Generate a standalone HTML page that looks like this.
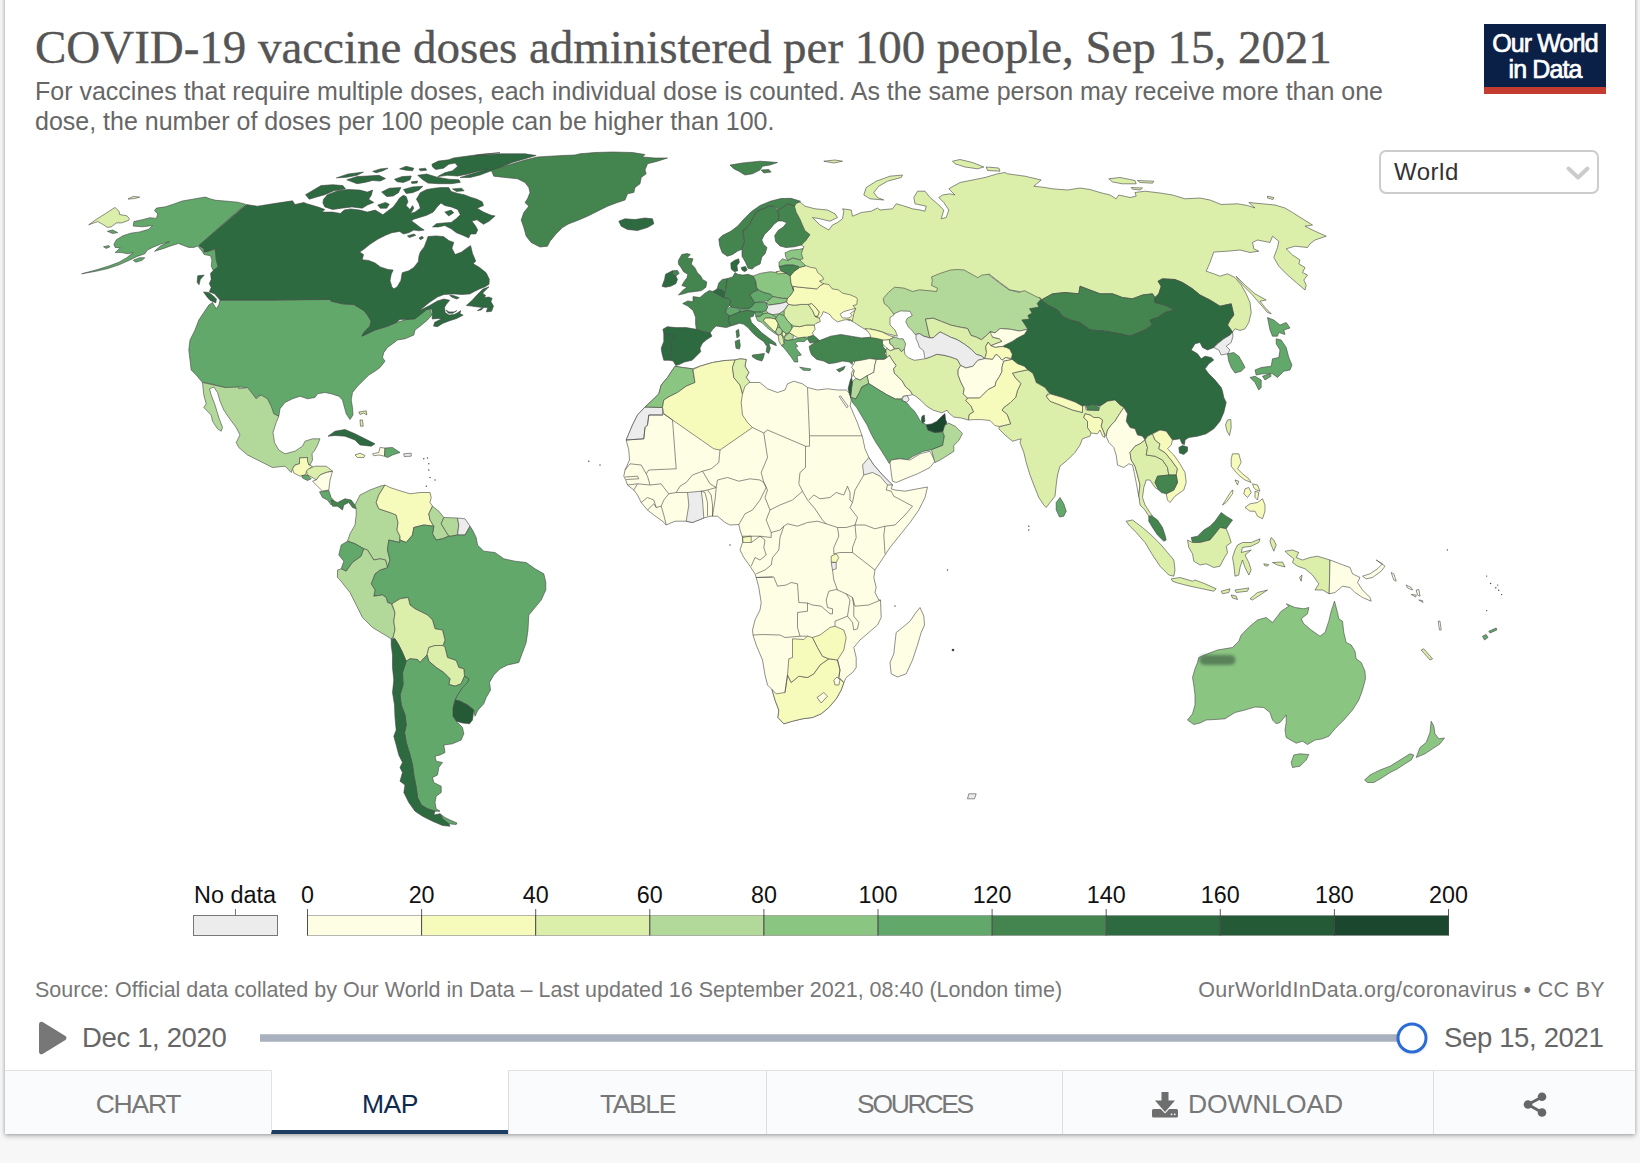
<!DOCTYPE html>
<html lang="en">
<head>
<meta charset="utf-8">
<title>COVID-19 vaccine doses administered per 100 people</title>
<style>
*{box-sizing:border-box;margin:0;padding:0}
html,body{width:1640px;height:1163px;overflow:hidden;background:#f7f7f7;font-family:"Liberation Sans",sans-serif}
#card{position:absolute;left:5px;top:-10px;width:1630px;height:1143.5px;background:#fff;box-shadow:0 2px 5px rgba(0,0,0,.28),0 0 3px rgba(0,0,0,.16)}
.abs{position:absolute;white-space:nowrap}
#title{left:35px;top:22px;font-family:"Liberation Serif",serif;font-size:47px;line-height:50px;color:#555;letter-spacing:-.03px;-webkit-text-stroke:.35px #555}
#sub{left:35px;top:76px;font-size:25px;line-height:30px;color:#666}
#logo{left:1484px;top:24px;width:122px;height:70px;background:#0a2046;border-bottom:7.5px solid #c43b2f;color:#fff;text-align:center;font-size:25px;line-height:26px;padding-top:6px;letter-spacing:-.9px;font-weight:400;-webkit-text-stroke:.7px #fff}
#sel{left:1379px;top:150px;width:220px;height:43.5px;border:2px solid #ccc;border-radius:7px;background:#fff;font-size:24px;line-height:39.5px;padding-left:13px;color:#333;letter-spacing:.5px}
#map{position:absolute;left:0;top:0;width:1640px;height:1163px}
.lg{font-size:22px;color:#111;top:882px;line-height:24px}
#src{left:35px;top:978px;font-size:21.5px;line-height:24px;color:#777}
#url{right:35px;top:978px;font-size:21.5px;line-height:24px;color:#777;letter-spacing:.33px}
.tl{font-size:27.5px;line-height:32px;color:#666;top:1022px;letter-spacing:-.35px}
#tabs{left:5px;top:1070px;width:1630px;height:63.5px;background:#fafbfc;border-top:1px solid #e2e2e2}
.tab{position:absolute;top:-1px;height:63.5px;box-sizing:border-box;overflow:hidden;border-left:1px solid #dcdcdc;border-top:1px solid #e2e2e2;font-size:26.5px;line-height:66px;text-align:center;color:#777}
.tab.on{background:#fff;color:#0f2a4f;border-bottom:4px solid #1d3d63;border-top-color:#fff;border-left:1px solid #e2e2e2}
</style>
</head>
<body>
<div id="card"></div>
<div id="title" class="abs">COVID-19 vaccine doses administered per 100 people, Sep 15, 2021</div>
<div id="sub" class="abs">For vaccines that require multiple doses, each individual dose is counted. As the same person may receive more than one<br>dose, the number of doses per 100 people can be higher than 100.</div>
<div id="logo" class="abs">Our World<br>in Data</div>
<svg id="map" viewBox="0 0 1640 1163">
<defs><filter id="bl" x="-50%" y="-50%" width="200%" height="200%"><feGaussianBlur stdDeviation="2"/></filter><filter id="sm" x="-50%" y="-100%" width="200%" height="300%"><feGaussianBlur stdDeviation="1.6"/></filter></defs>
<g id="countries" stroke="#444" stroke-width="0.6" stroke-linejoin="round">
<path fill="#61a86a" d="M245.4,204.2L237.7,202.2L224.8,201L215.8,200.3L210.6,199L205.4,197.1L193.8,199L182.2,201L173.2,204.2L165.5,206.8L156.4,208.1L154.5,210.6L157.7,213.9L156.4,218.4L150,217.7L142.2,219.7L133.9,221.6L133.2,226.1L142.2,226.8L152.6,225.5L148.7,229.3L139.7,231.9L130.6,233.2L122.9,235.8L116.4,239.7L113.9,244.2L115.1,247.4L120.3,248L115.1,252.6L121.6,252.6L128,253.8L133.2,252.6L126.8,257.7L119,262.2L108.7,266.1L95.8,270L81.6,273.8L95.8,271.3L107.4,268.7L119,264.8L129.3,260.3L137.1,256.4L144.8,253.8L147.4,250L152.6,247.4L160.3,244.2L169.3,241.6L160.3,246.1L154.5,251.3L162.9,248.7L171.9,245.5L178.4,243.5L183.5,245.5L188.7,247.4L193.8,247.4L197.7,246.1L201.6,250.6L204.2,254.5L210.6,255.8L211.9,260.3L211.2,266.1L213.2,270.6L218.3,266.7L216.4,260.3L215.8,253.8L215.1,248.7L208,251.3L204.2,251.9L204.2,248.7L199,245.5Z"/>
<path fill="#61a86a" d="M133.2,260.3L139.7,257.7L144.8,257.7L142.2,260.3L135.8,262.2Z"/>
<path fill="#61a86a" d="M103.5,246.8L108.7,245.5L110,246.8L106.1,248.4Z"/>
<path fill="#61a86a" d="M107.4,231.3L112.6,230L117.7,232.6L112.6,233.5Z"/>
<path fill="#61a86a" d="M220,300L270,300L330,299.2L331.2,301.2L342.5,303.8L353.8,304.5L363.8,310L367.5,315L371.2,321.2L370,326.2L363.8,332.5L362,335.8L375,330L387.5,326.2L396.2,322.5L408.8,318.8L420,312.5L422.5,310L430,308.8L431.8,315L427.5,320L420,326.2L415,330L413.8,335L405,338.8L397.5,340L392.5,343.8L387.5,347.5L383.8,352.5L382.5,357.5L385,361.2L380,367.5L375,371.2L368.8,375L363.8,380L357.5,386.2L352.5,392.5L351.2,400L352.5,407.5L353,415L350,419.5L346.2,413.8L343.8,405L342.5,400L338.8,396.2L331.2,393.8L325,392.5L317.5,393.8L315,397.5L307.5,398.8L300,396.2L292.5,398.8L285,402.5L280,408.8L278.8,416.2L272.5,413.8L270,406.2L266.2,398.8L260,395L255,398.8L250,392.5L246.2,387.5L237.5,387L237.5,388.8L225,387.5L210,383.8L202.5,382.5L196.2,375L191.2,370L190,360L188.8,350L190,340L195,330L198.8,320L203.8,312.5L208.8,305L212.5,302.5L216.2,308.8L218.8,305Z"/>
<path fill="#2d6a40" d="M246.2,204.5L257.5,206.2L272.5,203.8L292.5,200.8L295,204.5L303.8,202.5L306.8,203.7L313.2,205.6L319.7,207.6L324.8,209.5L322.2,212.1L332.6,212.1L340.3,213.4L344.2,210.1L350.6,208.9L359.7,210.1L367.4,212.1L375.1,210.1L382.9,214.7L388,210.8L393.2,206.9L397.1,201.8L399.6,197.9L403.5,195.3L406.1,196.6L408,201.8L406.1,205.6L410,209.5L412.5,205.6L413.8,208.2L410.6,213.4L415.1,212.1L420.3,208.2L419,203.7L416.4,199.2L420.3,192.7L426.7,189.5L434.5,188.2L440.9,187.6L448.7,187.6L451.2,191.4L457.7,193.4L464.1,194.7L470.6,197.2L477,199.2L482.2,201.8L483.5,205.6L477,208.2L483.5,212.1L491.2,215.3L495.1,215.9L489.3,221.1L483.5,224.3L477,219.8L471.9,221.1L475.7,226.3L477.7,230.1L475.7,234L470.6,234L468.7,237.9L462.8,235.3L456.4,232.7L451.2,228.8L444.8,225.6L438.3,226.9L432.5,226.9L436.4,223.7L443.5,223L451.2,222.4L456.4,218.5L460.3,214.7L457.7,209.5L451.2,206.9L444.8,205.6L440.9,203L437.1,206.9L433.2,212.1L426.7,215.3L420.3,217.2L413.8,219.2L411.3,221.1L413.8,222.4L420.3,227.6L424.2,230.1L419,230.8L413.8,230.1L408.7,232.7L403.5,234L399.6,231.4L391.9,232.7L385.5,235.3L377.7,239.2L370,244.3L363.5,249.5L359.7,252.1L363.5,254.6L362.2,259.8L368.7,260.4L375.1,263L380.3,266.9L388,269.5L393.2,270.1L391.3,274L390,280.4L391.9,286.9L393.8,288.8L397.1,286.9L400.9,280.4L402.2,272.7L408.7,270.8L413.8,267.5L418.3,261.7L419,255.9L420.3,252.1L424.2,246.9L426.7,240.5L428,236.6L435.8,235.9L443.5,236.6L448.7,240.5L453.8,242.4L451.9,248.2L455.1,254.6L461.6,252.1L466.7,248.2L470.6,245.6L472.5,253.4L475.7,261.1L473.2,263.7L479.6,267.5L486.1,272.7L489.3,279.2L489,284.2L485.1,286.8L480,288.7L474.8,291.3L469.7,293.9L461.9,294.5L454.2,293.9L443.9,294.5L437.4,297.1L429.7,302.2L423.2,307.4L419.3,310.6L423.2,308.7L429.7,305.5L437.4,300.9L443.9,299L449.7,300.3L446.4,304.2L444.5,307.4L445.1,312.6L449,315.1L454.2,314.5L458,312.6L460.6,310.6L460,313.8L463.2,315.1L456.8,318.4L449,320.9L442.6,323.5L437.4,326.7L433.5,326.1L434.8,322.2L441.3,319L438.7,318.4L432.2,319L432.2,312.6L431.6,308.9L427.1,309.3L420.6,314.5L414.8,319L406.4,319.4L400,319.4L396.2,322.5L387.5,326.2L375,330L362,336.2L363.8,332.5L370,326.2L371.2,321.2L367.5,315L363.8,310.5L353.8,304.5L342.5,303.8L331.2,301.2L330,299.5L270,300L220,300L214.5,293.8L209.3,291.9L211.2,287.4L209.3,283.5L211.2,279.6L210.6,273.2L213.2,270.6L218.3,266.7L216.4,260.3L215.8,253.8L215.1,248.7L208,251.3L204.2,251.9L204.2,248.7L199,245.5Z"/>
<path fill="#2d6a40" d="M466.4,305.5L472.2,300.3L477.4,294.5L482.6,289.3L489,286.8L485.1,290.6L482.6,293.2L485.8,295.8L483.8,297.7L489,297.1L492.2,298.4L490.9,301.6L493.5,306.1L491.6,311.3L486.4,311.9L487.7,307.4L483.8,307.4L481.3,310L477.4,310.6L482.6,307.4L476.1,306.8L471.6,306.1Z"/>
<path fill="#2d6a40" d="M449.7,295.1L454.2,295.8L459.3,297.7L456.8,299L451.6,297.1Z"/>
<path fill="#2d6a40" d="M445.8,310L449,311.9L454.2,311.9L456.8,310.6L452.9,313.2L448.4,313.2Z"/>
<path fill="#2d6a40" d="M203.5,291.9L208.7,292.5L213.2,295.8L216.4,299L215.8,302.9L210,300.3L206.7,296.4Z"/>
<path fill="#2d6a40" d="M197.7,275.8L204.2,275.1L200.3,279.6L199,284.8L197.1,282.2Z"/>
<path fill="#2d6a40" d="M305.5,194.7L321,185.6L332.6,184.7L342.9,185.6L345.5,188.9L333.9,190.8L324.8,194.7L315.8,197.2L309.3,199.2Z"/>
<path fill="#2d6a40" d="M323.5,199.2L327.4,194.7L337.7,190.8L348,189.5L359.7,190.1L367.4,192.1L372.6,190.1L371.3,195.3L368.7,199.2L373.8,202.4L367.4,205L362.2,208.2L351.9,206.9L341.6,208.2L332.6,209.5L324.8,206.9L322.9,203Z"/>
<path fill="#2d6a40" d="M381.6,192.1L389.3,188.2L400.9,187.6L398.4,192.7L393.2,196L386.7,196.6Z"/>
<path fill="#2d6a40" d="M377.7,205L385.5,202.4L389.3,204.3L386.7,208.2L380.3,208.2Z"/>
<path fill="#2d6a40" d="M346.8,179.8L357.1,176.6L367.4,176L379,175.3L385.5,178.5L380.3,181.1L372.6,180.5L364.8,182.4L357.1,183.7L351.9,181.8Z"/>
<path fill="#2d6a40" d="M336.4,177.9L348,174L363.5,172.1L357.1,175.3L346.8,177.2Z"/>
<path fill="#2d6a40" d="M372.6,171.4L380.3,168.9L388,168.2L382.9,170.8L376.4,172.7Z"/>
<path fill="#2d6a40" d="M394.5,179.2L402.2,176.6L411.3,176L410,179.8L403.5,182.4L397.1,181.8Z"/>
<path fill="#2d6a40" d="M399.6,168.9L406.1,166.3L413.8,168.2L412.5,170.8L406.1,170.2Z"/>
<path fill="#2d6a40" d="M419,168.9L425.4,168.2L426.7,170.2L420.3,170.8Z"/>
<path fill="#2d6a40" d="M411.3,181.8L417.7,181.1L417.1,183.1L411.9,183.4Z"/>
<path fill="#2d6a40" d="M417.7,175.3L426.7,174L437.1,177.2L448.7,179.2L459,179.8L460.3,182.4L451.2,183.7L438.3,183.7L428,183.1L422.9,179.8Z"/>
<path fill="#2d6a40" d="M403.5,189.5L412.5,186.9L422.9,186.3L419,190.1L412.5,192.7L406.1,193.4Z"/>
<path fill="#2d6a40" d="M452.5,188.9L461.6,188.2L464.1,190.8L456.4,191.4Z"/>
<path fill="#2d6a40" d="M444.8,212.1L451.2,210.1L453.8,212.7L448.7,215.9Z"/>
<path fill="#2d6a40" d="M407.4,235.9L413.8,234L415.8,235.3L409.3,237.6Z"/>
<path fill="#2d6a40" d="M419,237.9L422.2,236.3L423.5,237.9L420.5,239.8Z"/>
<path fill="#2d6a40" d="M431.9,164.3L438.3,161.1L448.7,159.8L453.8,157.9L468,156L483.5,154L500,152.7L475,155.5L500,153.8L525,153.8L536.2,155.5L525,158.8L512.5,162.5L500,167.5L490,171.2L480,175L470,177.5L460,177.5L487.4,168.9L477,171.4L468,174L457.7,176L447.4,175.3L437.7,176.6L444.8,172.7L452.5,170.8L457.7,166.3L455.1,163.1L448.7,164.3L443.5,168.2L435.8,169.5L432.5,166.9Z"/>
<path fill="#44844f" d="M491.2,170L500,167.5L512.5,163.8L525,160L537.5,157L550,156.2L562.5,155.5L575,155L580,153.8L595,152.5L612.5,152L632.5,152.5L645,154.5L642.5,157L655,158L667.5,158L657.5,161.2L647.5,163.8L645,170L646.2,173.8L641.2,177.5L640,183.8L635,187.5L633.8,192.5L627.5,193.8L625,200L617.5,202.5L607.5,206.2L597.5,211.2L587.5,216.2L577.5,220.5L568.8,223.8L562.5,227.5L556.2,233.8L550,241.2L547.5,246.2L540,247L531.2,242.5L526.2,236.2L523.8,227.5L521.2,220L523.8,212.5L528.8,206.2L525,202.5L527.5,198.8L530,192.5L528.8,187.5L525,182.5L517.5,178.8L505,177.5L493.8,176.2Z"/>
<path fill="#2d6a40" d="M618.8,221.2L625,218.8L635,219.5L645,218L652.5,218.8L653.8,223.8L647.5,227.5L637.5,230.5L627.5,229.5L621.2,226.2Z"/>
<path fill="#b3d99a" d="M202.5,382.5L225,387.5L238.8,387L238.8,388.8L247.5,387.5L252.5,393.8L256.2,398.8L261.2,395L267.5,398.8L271.2,406.2L273.8,413.8L278.8,416.2L276.2,422.5L273,432.5L274.5,442.5L278.8,450L285,453.8L295,451.2L302.5,446.2L305,441.2L312.5,438.8L320,438.8L317.5,445L315,450L312,453.8L312.5,460L310,465L308,463.8L307.5,461.2L307.5,457.5L299.5,458L299.5,463.8L295,465L292.5,468.8L291.2,472.5L285,466.2L272.5,467.5L260,461.2L247.5,455L238.8,447.5L236.2,442.5L240,435L236.2,427.5L228.8,417.5L223.8,410L220,401.2L217.5,392.5L213.8,387L209.5,388.8L211.2,395L215,405L218.8,417.5L222.5,427.5L221.2,431.2L217.5,428.8L212.5,421.2L211.2,415L203.8,407.5L206.2,403.8L203.8,395Z"/>
<path fill="#f6fabb" d="M299.5,458L307.5,457.5L307.5,461.2L308.8,465L312.5,466.2L307.5,470L305,475L300,476.2L293.8,473L292.5,468.8L295,465L299.5,463.8Z"/>
<path fill="#dbeeaa" d="M308.8,468.8L315,466.2L326.2,466.2L332.5,471.2L326.2,472.5L320,475L316.2,480L312.5,477.5L307.5,475L306.2,471.2Z"/>
<path fill="#61a86a" d="M301.8,475.5L307.5,475L311.2,478.8L307.5,480.5L302.5,478Z"/>
<path fill="#fefee5" d="M316.2,480L320,475L326.2,472.5L332.5,471.2L330,480L328.8,490L322.5,491.2L317.5,486.2L312.5,481.2Z"/>
<path fill="#61a86a" d="M319.5,491.8L328.8,490.5L331.2,497.5L334.5,501.2L331.2,505L327.5,500L322.5,497.5Z"/>
<path fill="#44844f" d="M331.2,500L337.5,502.5L345,498.8L351.2,500L355,505L356.2,508.8L352.5,507.5L348.8,502.5L343.8,505L342.5,510L337.5,506.2L332.5,506.2Z"/>
<path fill="#2d6a40" d="M328,436.2L335,431.2L345,429.5L355,433.8L365,438.8L375,443.8L371.2,446.2L360,445L355,440L345,436.2L335,435.5Z"/>
<path fill="#f6fabb" d="M355,455L360,453.2L365,455.5L363.8,457.5L357.5,457.5Z"/>
<path fill="#fefee5" d="M372.5,453.8L378.8,452.5L380,447.5L385,448L384.5,456.2L378.8,455L373.8,455.8Z"/>
<path fill="#61a86a" d="M385,448L392.5,447.5L400,452.5L392.5,455L387.5,457.5L384.5,456.2Z"/>
<path fill="#ececec" d="M403.8,453.8L411.2,453.2L411.2,456.2L404.2,456.5Z"/>
<path fill="#dbeeaa" d="M358.8,412L366.2,410.8L366.8,415L363.8,413L360,414.5Z"/>
<path fill="#dbeeaa" d="M360,420L362.5,420L363.2,426.2L360.5,426.2Z"/>
<path fill="#b3d99a" d="M355,505L360,495L370,490L380,486.2L385,485L378.8,495L376.2,502.5L378.8,508.8L390,512.5L396.2,515L398,522.5L397,530L400,536.2L399.5,542.5L388.8,540L387.5,550L390,560L387.5,567.5L385.5,560L380,558.8L373.8,560L367.5,550L363.8,548.8L355,543.8L347.5,541.2L350,533.8L355,525L356.2,515L356.2,508.8Z"/>
<path fill="#61a86a" d="M347.5,541.2L355,543.8L363.8,548.8L361.2,556.2L352.5,562.5L346.2,571.2L341.2,568.8L343.8,561.2L338.8,555L341.2,545Z"/>
<path fill="#f6fabb" d="M385,485L390,487.5L397.5,490L410,493.8L420,492.5L430,492.5L431.2,497.5L430,502.5L432.5,506.2L428.8,513.8L430,520L433.8,526.2L423.8,525L413.8,527.5L412.5,535L406.2,542.5L400,540L400,536.2L397,530L398,522.5L396.2,515L390,512.5L378.8,508.8L376.2,502.5L378.8,495Z"/>
<path fill="#b3d99a" d="M432.5,506.2L438.8,511.2L443.8,517.5L441.2,523.8L445,530L448.8,536.2L442.5,538.8L436.2,540L432.5,533.8L433.8,526.2L430,520L428.8,513.8Z"/>
<path fill="#b3d99a" d="M443.8,517.5L457.5,518L458.8,525L457.5,535L451.2,536.2L448.8,536.2L445,530L441.2,523.8Z"/>
<path fill="#ececec" d="M457.5,518L465,518.8L470,526.2L465,535L457.5,535L458.8,525Z"/>
<path fill="#61a86a" d="M470,526.2L472.5,530L476.2,537.5L477.5,545L483.8,551.2L495,552.5L503.8,558.8L515,561.2L526.2,562.5L535,568.8L543.8,573.8L545.8,582.5L545.8,590L541.2,600L535,607.5L528.8,615L528,630L526.2,642.5L522.5,652.5L518.8,662.5L507.5,665L500,668.8L493.8,675L489.5,682.5L490.5,690L486.2,697.5L483.8,703.8L478,710L475,716.2L473.8,710L467.5,705L460,701.2L455,700L457.5,695L462.5,687.5L467.5,682.5L468.8,678.8L464.5,676.2L463.8,668.8L458.8,667.5L456.2,660.5L447.5,657.5L445,647.5L443,645.5L445,640L442.5,630L435,628.8L432.5,620L427.5,615L422.5,612.5L415,608.8L410,605L408.2,597.5L400,598.8L392,603.8L387.5,602.5L386.2,597.5L382.5,595L373.8,596.2L375,590L371.2,583.8L375,573.8L380,570L387.5,567.5L390,560L387.5,550L388.8,540L399.5,542.5L400,540L406.2,542.5L412.5,535L413.8,527.5L423.8,525L433.8,526.2L432.5,533.8L436.2,540L442.5,538.8L448.8,536.2L451.2,536.2L457.5,535L465,535Z"/>
<path fill="#b3d99a" d="M346.2,571.2L352.5,562.5L361.2,556.2L363.8,548.8L367.5,550L373.8,560L380,558.8L385.5,560L387.5,567.5L380,570L375,573.8L371.2,583.8L375,590L373.8,596.2L382.5,595L386.2,597.5L387.5,602.5L391.2,603.8L395,612.5L393.8,621.2L395,630L393,637.5L391.2,638.8L385,635L372.5,627.5L362.5,617.5L350,592.5L340,580L337.5,577.5L337.5,570L341.2,568.8Z"/>
<path fill="#dbeeaa" d="M392,603.8L400,598.8L408.2,597.5L410,605L415,608.8L422.5,612.5L427.5,615L432.5,620L435,628.8L442.5,630L445,640L443,645.5L435,645.5L428.8,647.5L427,655L420,662.5L417.5,659.5L410,658.8L406.2,661.2L402.5,652.5L398.8,645L395,638.8L393,637.5L395,630L393.8,621.2L395,612.5Z"/>
<path fill="#dbeeaa" d="M428.8,647.5L435,645.5L443,645.5L445,647.5L447.5,657.5L456.2,660.5L458.8,667.5L463.8,668.8L464.5,676.2L461.2,683.8L455,686.2L448.8,684.5L450,678.8L443.8,672.5L436.2,667.5L428.8,661.2L427,655Z"/>
<path fill="#255a37" d="M455,700L460,701.2L467.5,705L473.8,710L472.5,720L469.5,723.8L462.5,723L456.2,721.2L453,716.2L453,707.5Z"/>
<path fill="#61a86a" d="M406.2,661.2L410,658.8L417.5,659.5L420,662.5L427,655L428.8,661.2L436.2,667.5L443.8,672.5L450,678.8L448.8,684.5L455,686.2L461.2,683.8L464.5,676.2L468.8,678.8L467.5,682.5L462.5,687.5L457.5,695L455,700L453,707.5L453,716.2L456.2,721.2L462.5,727.5L463.8,733.8L461.2,740L452.5,743.8L443.8,745L445,752.5L440,755L435,756.2L436.2,761.2L442.5,762.5L438.8,767.5L437.5,775L432.5,777.5L433.8,782.5L441.2,786.2L441.2,792.5L436.2,796.2L435,802.5L436.2,808.8L440,811.2L435,811.2L427.5,808.8L421.2,805L417.5,797.5L416.2,787.5L413.8,775L412.5,765L410,755L406.2,742.5L404.5,732.5L406.2,725L405,715L401.2,705L400,695L403,685L402.5,672.5Z"/>
<path fill="#61a86a" d="M440,813.8L445,817.5L450,820L457,823L456.2,824.5L448.8,823.8L442.5,818.8Z"/>
<path fill="#2d6a40" d="M391.2,638.8L395,638.8L398.8,645L402.5,652.5L406.2,661.2L402.5,672.5L403,685L400,695L401.2,705L405,715L406.2,725L404.5,732.5L406.2,742.5L410,755L412.5,765L413.8,775L416.2,787.5L417.5,797.5L421.2,805L427.5,808.8L435,811.2L433.8,815L440,813.8L442.5,818.8L448.8,823.8L450,826.2L442.5,825.5L432.5,821.2L422.5,816.2L415,811.2L408.8,802.5L403.8,792.5L405,785L400,781.2L402.5,772.5L400,767.5L402.5,762.5L398.8,755L396.2,745L393.8,736.2L396.2,730L395,717.5L394.5,705L392.5,692.5L393.8,680L392.5,667.5L392.5,655L391.2,645Z"/>
<path fill="#dbeeaa" d="M800,202L805,206.2L815,208.8L827.5,210L835,213.8L837.5,217.5L830,221.2L820,218.8L812.5,217.5L816.2,221.2L820,225L828.8,230L832.5,225L837.5,222.5L842.5,218.8L843.8,211.2L842.5,208.8L851.2,210L852.5,216.2L861.2,212.5L871.2,211.2L877.5,208L880,210L892.5,208.8L896.2,203.8L902.5,205.5L912.5,208.8L920,210L925,211.2L926.2,206.2L915,203.8L913.8,197.5L917.5,191.2L925,191.2L930,197.5L937.5,203.8L943.8,210L941.2,218.8L946.2,217.5L948.8,210L943.8,202.5L938.8,197.5L942.5,195L950,193.8L955,195L948.8,188.8L960,182.5L972.5,180L985,177.5L997.5,173.8L1005,172.5L1007.5,173.8L1025,176.2L1041.2,180L1033.8,186.2L1045,187.5L1052.5,188.8L1067.5,190L1080,188L1090,189.5L1100,192.5L1110,195L1116.2,198.8L1118.8,195L1130,197.5L1136.2,196.2L1135,192.5L1145,191.2L1160,193L1172.5,195L1185,198.8L1200,198L1210,200L1221.2,204.5L1237.5,203.8L1247.5,205.5L1255,208L1248.8,202.5L1262.5,203.8L1275,205L1285,208L1292.5,212.5L1302.5,218.8L1312.5,225L1305,226.2L1315,231.2L1326.2,236.2L1315,240L1310,243.8L1307.5,247.5L1295,246.2L1286.2,248.8L1292.5,255L1300,260L1298.8,263.8L1305,267.5L1302.5,272.5L1307.5,275L1303.8,280L1306.2,285L1305,290L1296.2,282.5L1287.5,275L1278.8,266.2L1273.8,257.5L1277.5,247.5L1278.8,241.2L1272.5,236.2L1270,242.5L1257.5,240L1252.5,242.5L1253.8,248.8L1258.8,251.2L1250,252.5L1240,250L1227.5,251.2L1213.8,252L1210,262.5L1206.2,271.2L1213.8,273.8L1220,276.2L1227.5,273.8L1235,277.5L1241.2,285L1246.2,293.8L1250,302.5L1251.2,312.5L1248.8,322.5L1245,328.8L1240,330.5L1235,328.8L1232.5,332L1227.5,325L1230,320L1233.8,315L1231.2,303.8L1220,306.2L1210,300L1200,295L1192.5,288.8L1182.5,282.5L1175,279.5L1162.5,278.8L1158,281.2L1161.2,286.2L1158.8,293.8L1155,297.5L1152.5,293.8L1142.5,295L1132.5,298.8L1122.5,297.5L1112.5,293.8L1100,293.8L1090,290L1080,286.2L1078.8,293.8L1065,292.5L1052.5,293.8L1041.2,300L1037.5,300L1030,295L1017.5,291.2L1010,290L1000,282.5L988.8,273.8L980,285L967.5,282.5L957.5,277.5L945,280L937.5,282.5L940,295L926.2,296.2L915,297.5L906.2,295L897.5,295L891.2,300L892.5,305L895,310L893.8,315L890,317.5L890,325L895,330L897.5,336.2L887.5,333.8L880,331.2L870,328.8L869.8,332.2L864.5,329L859.2,325.8L854.2,322.5L852.2,321.2L847.5,320L845,312.5L851.2,305L852.5,298.8L846.2,297.5L840,296.2L832.5,291.2L827.5,286.2L820,287.5L820,278.8L815,273.8L812.5,268.8L805,267.5L801.2,265.5L798.8,260L798.8,251.2L803,248.5L804,246.8L801.2,245L805,235L801.2,225L797.5,216.2L793.8,208.8L792.5,203.8Z"/>
<path fill="#dbeeaa" d="M776.2,271.8L785,271.2L785,274.2L777,274.2Z"/>
<path fill="#dbeeaa" d="M863.8,195L866.2,187.5L876.2,181.2L890,176.2L902.5,175L901.2,177.5L887.5,181.2L878.8,186.2L873.8,192.5L877.5,197.5L883.8,200L870,198.8Z"/>
<path fill="#dbeeaa" d="M823.8,161.2L835,160L842.5,161.2L833.8,163Z"/>
<path fill="#dbeeaa" d="M952.5,161.2L960,159.5L972.5,162.5L983.8,167L977.5,168.8L965,167L955,163.8Z"/>
<path fill="#dbeeaa" d="M986.2,167L998.8,168L1000,171.2L987.5,170.5Z"/>
<path fill="#dbeeaa" d="M1108.8,178.8L1120,177.5L1135,180.5L1136.2,183.8L1122.5,183.8L1112.5,182Z"/>
<path fill="#dbeeaa" d="M1137.5,180.5L1153.8,181.2L1152.5,183.2L1140,182.5Z"/>
<path fill="#dbeeaa" d="M1131.2,187.5L1142.5,188L1140,190L1132.5,189.2Z"/>
<path fill="#dbeeaa" d="M1267.5,196.2L1273.8,197.5L1273,199.5L1267.5,198Z"/>
<path fill="#dbeeaa" d="M1236.2,276.2L1245,285L1255,293.8L1266.2,300L1260,301.2L1265,307.5L1271.2,313.8L1267.5,312.5L1260,303.8L1252.5,295L1243.8,286.2L1237.5,278.8Z"/>
<path fill="#44844f" d="M730,165L742.5,163L760,161.2L777.5,162.5L770,165L762.5,166.2L760,170L752.5,173.8L745,175L738.8,171.2L733.8,168.8Z"/>
<path fill="#44844f" d="M761.2,170L768.8,169.5L771.2,172L763.8,173Z"/>
<path fill="#44844f" d="M1041.2,300L1052.5,293.8L1065,292.5L1078.8,293.8L1080,286.2L1090,290L1100,293.8L1112.5,293.8L1122.5,297.5L1132.5,298.8L1142.5,295L1152.5,293.8L1155,297.5L1155,302.5L1165,305L1175,310L1165,312.5L1157.5,317.5L1150,320L1152.5,325L1145,330L1130,336.2L1120,333.8L1105,331.2L1090,330L1080,322.5L1070,320L1062.5,316.2L1057.5,310L1047.5,305Z"/>
<path fill="#2d6a40" d="M1003.7,347.4L1004.6,343.1L1010.6,339.7L1015.7,336.2L1021.8,332.8L1025.2,329.3L1022.6,325L1019.2,319L1026.9,317.3L1025.2,314.7L1029.5,312.1L1026.9,307.8L1036.4,306.1L1034.7,302.7L1039.8,297.5L1041.2,300L1047.5,305L1057.5,310L1062.5,316.2L1070,320L1080,322.5L1090,330L1105,331.2L1120,333.8L1130,336.2L1145,330L1152.5,325L1150,320L1157.5,317.5L1165,312.5L1175,310L1165,305L1155,302.5L1155,297.5L1158.8,293.8L1161.2,286.2L1158,281.2L1162.5,278.8L1175,279.5L1182.5,282.5L1192.5,288.8L1200,295L1210,300L1220,306.2L1231.2,303.8L1233.8,315L1230,320L1227.5,325L1232.5,332L1230,335L1223.8,338.8L1217.5,343.8L1213.8,347.5L1207.5,350L1202.5,347.5L1200,342.5L1195,343.8L1191.2,350L1197.5,353.8L1201.2,358.8L1205,356.2L1211.2,357.5L1213.8,360L1208.8,363.8L1205,368.8L1208.8,373.8L1215,380L1221.2,387.5L1222.5,391.2L1223.8,397.5L1226.2,402.5L1223.8,412.5L1220,421.2L1213.8,428.8L1206.2,433.8L1197.5,436.2L1188.8,437.5L1185,440L1184.5,444.5L1182,443.8L1180,438.8L1172.5,440L1166.2,431.2L1160,430L1152.5,433.8L1147.5,436.2L1145,440L1142.5,436.2L1137.5,435L1135,428.8L1130,427.5L1126.2,421.2L1127.5,413.8L1123.8,407.5L1120,405L1115,400L1107.5,401.2L1100,406.2L1092.5,404.5L1086.2,405.5L1082.5,406.2L1075,402L1062.5,397.5L1050,393.8L1045,387.5L1036.2,382.5L1033.8,380.1L1031.2,374.1L1026.1,370.6L1022.6,368L1016.6,365.5L1010.6,361.2L1008.9,358.6L1009.7,354.3L1007.1,350Z"/>
<path fill="#2d6a40" d="M1178.8,447.5L1182.5,445.5L1187.5,447L1187.5,451.2L1183.8,454.5L1179.5,453Z"/>
<path fill="#dbeeaa" d="M1227.5,420L1230.8,419.5L1231.2,427.5L1229.5,435.5L1227,431.2L1225.5,425Z"/>
<path fill="#ececec" d="M1232.5,332L1230,335L1223.8,338.8L1217.5,343.8L1213.8,347.5L1218.8,350L1221.2,355L1227.5,353.8L1230,350L1226.2,346.2L1231.2,342.5L1233,336.2Z"/>
<path fill="#61a86a" d="M1227.5,353.8L1233.8,352.5L1238.8,356.2L1242.5,362.5L1245,367.5L1241.2,371.2L1235,373L1231.2,367.5L1228.8,361.2Z"/>
<path fill="#61a86a" d="M1267.5,317.5L1273.8,320L1280,325L1286.2,322.5L1290,328L1283.8,330L1285,334.5L1278.8,332.5L1277.5,336.2L1272.5,336.2L1270,330Z"/>
<path fill="#61a86a" d="M1276.2,338.8L1281.2,340L1286.2,347.5L1288.8,357.5L1292,365L1290,370L1283.8,371.2L1277.5,377.5L1272.5,373.8L1262.5,373.8L1256.2,375L1255,370L1261.2,367.5L1271.2,366.2L1272.5,358.8L1278.8,357.5L1280,350L1276.2,343.8Z"/>
<path fill="#61a86a" d="M1250,377.5L1255,376.2L1261.2,380L1261.2,387.5L1258.8,390L1255,382.5Z"/>
<path fill="#61a86a" d="M1262.5,376.2L1270,373.8L1271.2,376.2L1265,380Z"/>
<path fill="#dbeeaa" d="M1036.2,382.5L1045,387.5L1048.8,392.5L1046.2,396.2L1050,401.2L1060,405L1072.5,410L1082.5,412.5L1082.5,406.2L1085,405L1086.2,410L1098.8,410L1100,406.2L1107.5,401.2L1115,400L1120,405L1123.8,407.5L1118.8,415L1115,421.2L1111.2,425L1107.5,430L1106.2,436.2L1103.8,432.5L1101.2,426.2L1102.5,420L1098.8,417.5L1093.8,417.5L1090,415L1085,413.8L1083.8,417.5L1087.5,421.2L1087.5,427.5L1091.2,432.5L1090,436.2L1082.5,438.8L1080,445L1075,452.5L1067.5,460L1060,466.2L1057.5,475L1056.2,485L1055,496.2L1050,502.5L1046.2,507.5L1043.8,505L1038.8,497.5L1033.8,485L1030,475L1026.2,462.5L1023.8,452.5L1020,442.5L1021.2,438.8L1012.5,441.2L1005,435L998.8,428.8L999.4,426.5L1010.6,423.9L1009.7,421.4L1007.1,414.5L1002,410.2L1003.7,407.6L1010.6,402.4L1015.7,397.3L1017.5,390.4L1020.9,383.5L1015.7,378.4L1012.3,373.2L1019.2,371.5L1027.8,369.8L1032.9,373.2L1035.5,380.1Z"/>
<path fill="#f6fabb" d="M1046.2,396.2L1050,393.8L1062.5,397.5L1075,402L1082.5,406.2L1082.5,412.5L1072.5,410L1060,405L1050,401.2Z"/>
<path fill="#44844f" d="M1086.2,405.5L1092.5,404.5L1098.8,407L1098.8,410.5L1087.5,410Z"/>
<path fill="#f6fabb" d="M1085,413.8L1090,415L1093.8,417.5L1098.8,417.5L1102.5,420L1101.2,426.2L1103.8,432.5L1105,437.5L1102.5,436.2L1100,430L1097.5,433.8L1091.2,433L1087.5,427.5L1087.5,421.2L1083.8,417.5Z"/>
<path fill="#61a86a" d="M1056.2,502.5L1060,497.5L1063.8,503.8L1066.2,511.2L1063.8,516.2L1059.5,517L1056.2,510Z"/>
<path fill="#fefee5" d="M1106.2,436.2L1107.5,430L1111.2,425L1115,421.2L1118.8,415L1123.8,407.5L1127.5,413.8L1126.2,421.2L1130,427.5L1135,428.8L1137.5,435L1142.5,436.2L1145,440L1140,443.8L1135,446.2L1130,452.5L1131.2,460L1135,466.2L1137.5,475L1140,485L1138.8,495L1140,500L1138,492.5L1136.2,482.5L1134.5,473.8L1132.5,465L1128.8,463.8L1123.8,467.5L1117.5,465L1116.2,455L1113.8,447.5L1108.8,442.5Z"/>
<path fill="#dbeeaa" d="M1130,452.5L1135,446.2L1140,443.8L1145,440L1147.5,447.5L1146.2,455L1155,456.2L1162.5,460L1167.5,467.5L1168.8,475L1157.5,476.2L1155,482.5L1158.8,490L1155,487.5L1150,480L1146.2,480L1143.8,487.5L1142.5,497.5L1145,505L1150,512.5L1152.5,516.2L1148.8,516.2L1145,510L1140,505L1138.8,495L1140,485L1137.5,475L1135,466.2L1131.2,460Z"/>
<path fill="#dbeeaa" d="M1145,440L1147.5,436.2L1152.5,433.8L1155,440L1160,443.8L1158.8,448.8L1165,452.5L1171.2,460L1177.5,468.8L1176.2,475L1168.8,475L1167.5,467.5L1162.5,460L1155,456.2L1146.2,455L1147.5,447.5Z"/>
<path fill="#f6fabb" d="M1152.5,433.8L1160,430L1166.2,431.2L1172.5,440L1171.2,445L1167.5,448.8L1173.8,455L1180,463.8L1185,472.5L1186.2,482.5L1183.8,490L1175,496.2L1170,502.5L1167.5,500L1166.2,493.8L1173.8,490L1177.5,482.5L1176.2,475L1177.5,468.8L1171.2,460L1165,452.5L1158.8,448.8L1160,443.8L1155,440Z"/>
<path fill="#44844f" d="M1155,482.5L1157.5,476.2L1168.8,475L1176.2,475L1177.5,482.5L1173.8,490L1166.2,493.8L1161.2,492.5L1158.8,490Z"/>
<path fill="#44844f" d="M1148.8,516.2L1152.5,516.2L1157.5,520L1162.5,527.5L1165,535L1166.2,540L1163.8,541.2L1157.5,535L1152.5,527.5L1148.8,521.2Z"/>
<path fill="#44844f" d="M1191.2,537.5L1197.5,536.2L1203.8,530L1210,526.2L1215,521.2L1221.2,512.5L1226.2,516.2L1232.5,520L1228.8,525L1226.2,528.8L1220,527.5L1216.2,532.5L1210,540L1200,542.5L1192.5,542.5Z"/>
<path fill="#dbeeaa" d="M1126.2,521.2L1132.5,520L1142.5,527.5L1152.5,536.2L1161.2,545L1167.5,552.5L1173.8,560L1175,570L1173.8,576.2L1168.8,575L1160,566.2L1152.5,555L1145,542.5L1136.2,532.5L1128.8,525Z"/>
<path fill="#dbeeaa" d="M1171.2,578.8L1180,577.5L1192.5,581.2L1195,580L1205,583.8L1216.2,588.8L1213.8,591.2L1202.5,588.8L1190,586.2L1177.5,583L1172.5,581.2Z"/>
<path fill="#dbeeaa" d="M1187.5,540L1192.5,542.5L1200,542.5L1210,540L1216.2,532.5L1220,527.5L1226.2,528.8L1228.8,535L1231.2,542.5L1226.2,546.2L1227.5,552.5L1223.8,558.8L1220,566.2L1213.8,567.5L1206.2,563.8L1200,565L1193.8,561.2L1192.5,553.8L1188.8,547.5Z"/>
<path fill="#dbeeaa" d="M1237.5,545L1242.5,542.5L1251.2,542.5L1260,538.8L1258.8,542.5L1251.2,546.2L1242.5,547.5L1241.2,552.5L1251.2,550L1245,555L1248.8,562.5L1251.2,570L1248.8,575L1245,567.5L1242.5,560L1240,567.5L1238.8,575L1235,576.2L1233.8,565L1232.5,557.5L1235,550Z"/>
<path fill="#dbeeaa" d="M1271.2,537.5L1273.8,540L1276.2,545L1273.8,551.2L1271.2,545L1270,541.2Z"/>
<path fill="#dbeeaa" d="M1221.2,591.2L1230,588.8L1228.8,592.5L1222.5,593.8Z"/>
<path fill="#dbeeaa" d="M1235,590L1248.8,588L1247.5,591.2L1236.2,592.5Z"/>
<path fill="#dbeeaa" d="M1231.2,595L1236.2,596.2L1237.5,599.5L1232.5,598Z"/>
<path fill="#dbeeaa" d="M1250,598.8L1257.5,592.5L1267.5,590L1260,595L1252.5,600Z"/>
<path fill="#dbeeaa" d="M1263.8,563.8L1268.8,564.5L1267.5,566.2L1264.5,565.5Z"/>
<path fill="#dbeeaa" d="M1272.5,562.5L1282.5,562L1285,567L1277.5,565Z"/>
<path fill="#dbeeaa" d="M1299.5,577.5L1302,575L1301.2,581.2Z"/>
<path fill="#dbeeaa" d="M1285,551.2L1292.5,550L1298.8,552.5L1296.2,557.5L1302.5,560L1310,557.5L1317.5,556.2L1330,560L1329.2,593.8L1322.5,590L1315,590L1318.8,583.8L1312.5,575L1305,568.8L1297.5,566.2L1292.5,562.5L1293.8,558.8L1288.8,555Z"/>
<path fill="#fefee5" d="M1330,560L1340,563.8L1350,567.5L1352.5,573.8L1360,577.5L1357.5,582.5L1362.5,590L1370,597.5L1371.2,601.2L1362.5,597.5L1355,592.5L1350,587.5L1342.5,586.2L1335,592.5L1329.2,593.8Z"/>
<path fill="#fefee5" d="M1362.5,576.2L1370,573.8L1377.5,568.8L1382.5,563.8L1376.2,560L1385,566.2L1381.2,571.2L1372.5,577.5L1366.2,578.8Z"/>
<path fill="#f6fabb" d="M1232.5,453.8L1238.8,453.8L1241.2,462.5L1237.5,468.8L1242.5,473.8L1248.8,478.8L1251.2,482.5L1245,480L1240,476.2L1236.2,472.5L1231.2,466.2L1231.2,458.8Z"/>
<path fill="#f6fabb" d="M1235,480L1238.8,481.2L1237.5,485Z"/>
<path fill="#f6fabb" d="M1245,488.8L1248.8,487.5L1251.2,492.5L1247.5,497.5L1243.8,493.8Z"/>
<path fill="#f6fabb" d="M1252.5,483.8L1257.5,485L1260,491.2L1256.2,490L1253.8,487.5Z"/>
<path fill="#f6fabb" d="M1255,491.2L1258.8,492.5L1257.5,500L1255,497.5Z"/>
<path fill="#f6fabb" d="M1222.5,505L1231.2,491.2L1233,490L1232.5,493.8L1226.2,502.5Z"/>
<path fill="#f6fabb" d="M1245,507.5L1250,503.8L1257.5,502.5L1262.5,498.8L1265,505L1265,511.2L1262.5,518.8L1257.5,516.2L1255,511.2L1250,511.2Z"/>
<path fill="#8bc582" d="M1198.8,657.5L1207.5,653.8L1217.5,650L1232.5,647.5L1238.8,641.2L1241.2,635L1246.2,630L1250,626.2L1257.5,620L1266.2,617.5L1272.5,622.5L1277.5,616.2L1281.2,611.2L1288.8,606.2L1286.2,603.8L1295,607.5L1303.8,608.8L1308.8,607.5L1307.5,613.8L1301.2,618.8L1303.8,623.8L1311.2,630L1320,636.2L1325,632.5L1328.8,621.2L1331.2,611.2L1334.5,601.2L1337.5,612.5L1338.8,618.8L1342.5,621.2L1343.8,632.5L1346.2,642.5L1351.2,645L1355,651.2L1356.2,658.8L1361.2,662.5L1365,671.2L1365.5,678.8L1362.5,690L1358.8,700L1352.5,710L1343.8,720L1335,728.8L1328.8,736.2L1322.5,738.8L1315,740L1307.5,744.5L1302.5,741.2L1296.2,743.2L1286.2,737.5L1285,730L1286.2,722.5L1286.2,715L1280,722.5L1276.2,723.8L1272.5,720L1270,712.5L1263.8,707.5L1255,707L1245,710L1235,712.5L1225,718.8L1215,719.5L1206.2,720L1200,723L1193.8,724.5L1187.5,720L1192.5,713.8L1195,705L1195,695L1193.8,685L1192.5,677.5L1195,668.8L1197.5,662.5Z"/>
<path fill="#8bc582" d="M1293.8,755L1300,753.8L1308.8,754.5L1306.2,760L1300,766.2L1292.5,767.5L1291.2,762.5Z"/>
<path fill="#8bc582" d="M1416.2,757.5L1420,747.5L1426.2,742.5L1430,732.5L1431.2,721.2L1433.8,726.2L1435,733.8L1438.8,738.8L1444.5,738L1440,743.8L1432.5,748.8L1425,753.8Z"/>
<path fill="#8bc582" d="M1364.5,780L1370,775L1380,770L1390,766.2L1400,760L1410,753.8L1413.8,755L1411.2,760L1405,763.8L1397.5,768.8L1390,772.5L1382.5,777.5L1373.8,782.5L1367.5,782.5Z"/>
<path fill="#dbeeaa" d="M1421.2,650L1423.8,648.8L1432.5,658.8L1430,660Z"/>
<path fill="#61a86a" d="M1482.5,636.2L1486.2,634.5L1488,637.5L1484.5,640Z"/>
<path fill="#61a86a" d="M1488.8,631.2L1496.2,628L1496.8,630L1490,633Z"/>
<path fill="#fefee5" d="M1438.2,621.2L1440,621.2L1441.2,630L1439.5,630Z"/>
<path fill="#fefee5" d="M1391.2,572.5L1393.8,573.8L1396.2,581.2L1393.8,580Z"/>
<path fill="#fefee5" d="M1406.2,585L1411.2,587.5L1412.5,590L1407.5,588Z"/>
<path fill="#fefee5" d="M1416.2,590L1418.8,589.5L1420,596.2L1417.5,595Z"/>
<path fill="#fefee5" d="M1411.2,594.5L1416.2,595L1415.8,597Z"/>
<path fill="#fefee5" d="M1418.8,600L1422.5,600.5L1423,602.5Z"/>
<path fill="#fefee5" d="M675,366.2L682.5,367.5L692.5,368.8L700,366.2L712.5,362.5L725,360.5L735,360L740,358.8L746.2,359.5L745,366.2L748.8,372.5L746.2,377.5L750,382.5L760,382.5L767.5,388.8L777.5,392.5L785,390L787.5,383.8L793.8,381.2L802.5,383.8L807.5,387.5L817.5,390L827.5,388.8L837.5,390L846.2,390L850,393.8L851.2,400L850.2,406L857.5,423L862.5,437L865,448.8L869,457.8L873.8,465L882.5,475L890,482.5L892.5,485L891.2,488.8L895,490L905,491.2L917.5,488.8L927.5,487L925,497.5L918.8,510L910,522.5L900,535L890,547.5L885,555L880,562.5L875,570L873.8,577.5L876.2,587.5L875,592.5L878.8,600L880.5,600L881.2,617.5L877.5,625L868.8,632.5L860,640L853.8,647.5L856.2,657.5L856.2,667.5L852.5,672.5L846.2,677.5L843.8,682.5L841.2,690L836.2,698.8L828.8,707.5L821.2,713.8L812.5,717.5L802.5,718.8L792.5,721.2L783.8,723.8L778,717.5L778.8,710L775,700L772,689.5L767.5,685L765,675L762.5,660L756.2,645L753,635L752.5,630L755,620L760,610L761.2,602.5L758.8,587.5L756.2,577.5L755,573.8L750,566.2L743.8,557.5L740,550L742.5,542.5L742.5,537.5L740,530L738.8,524.5L730,525L725,522.5L717.5,516.2L710,516.2L703.8,518L692.5,522.5L686.2,521.2L675,521.2L666.2,525L662.5,521.2L653.8,515L647.5,510L641.2,502.5L637.5,495L633.8,490L627.5,485L626.2,481.2L623.8,476.2L625,470L629.5,460L628.8,450L626.2,440L628.8,433.8L632.5,425L637.5,415L645,407L653.8,398.8L658.8,393.8L661.2,385L667.5,377.5Z"/>
<path fill="#fefee5" d="M920,607.5L923.8,616.2L924.5,625L921.2,632.5L917.5,645L912.5,660L906.2,673.8L897.5,677L891.2,673.8L890,662.5L893.8,653.8L895,642.5L896.2,632.5L902.5,627.5L910,621.2L915,613.8Z"/>
<path fill="#ececec" d="M968.8,793.8L976.2,793.8L974.5,798.8L967.5,798.8Z"/>
<path fill="#ececec" d="M645,407L662.5,407.5L662.5,415L648.8,415L647.5,425L645,427.5L643.8,438.8L626.2,440L628.8,433.8L632.5,425L637.5,415Z"/>
<path fill="#8bc582" d="M675,366.2L682.5,367.5L692.5,368.8L695,382.5L686.2,386.2L677.5,392.5L670,396.2L663.8,400L662.5,407.5L645,407L653.8,398.8L658.8,393.8L661.2,385L667.5,377.5Z"/>
<path fill="#f6fabb" d="M693,369.5L700,366.2L712.5,362.5L725,360.5L735,360L732.5,367.5L733.8,377.5L740,385L742.5,393.8L741.2,402.5L742.5,415L747.5,422.5L752.5,427.5L720,450L713.8,448.8L672.5,420L663.8,413.8L662.5,407.5L663.8,400L670,396.2L677.5,392.5L686.2,386.2L695,382.5Z"/>
<path fill="#dbeeaa" d="M735,360L740,358.8L746.2,359.5L745,366.2L748.8,372.5L746.2,377.5L750,382L745,386.2L742.5,393.8L740,385L733.8,377.5L732.5,367.5Z"/>
<path fill="#ececec" d="M687.5,492.5L701.2,491.2L702.5,500L703.8,518L692.5,522.5L686.2,521.2L688.8,505Z"/>
<path fill="#f6fabb" d="M742.5,536.2L751.2,536.2L751.2,542.5L743,542.5Z"/>
<path fill="#f6fabb" d="M831.2,556.2L836.2,553.8L838.8,557.5L836.2,562.5L831.2,562Z"/>
<path fill="#ececec" d="M831.2,562.5L836.2,562.5L836.2,568.8L832.5,570Z"/>
<path fill="#ececec" d="M868.8,457.5L873.8,465L882.5,475L890,482.5L892.5,485L887.5,485L880,476.2L872.5,472.5L863.8,475L862.5,465Z"/>
<path fill="#f6fabb" d="M772,689.5L776.2,693.8L785,692.5L787.5,675L791.2,682.5L798.8,676.2L807.5,677.5L813.8,673.8L820,665L828.8,658.8L837.5,660L840,670L838.8,677.5L843.8,682.5L841.2,690L836.2,698.8L828.8,707.5L821.2,713.8L812.5,717.5L802.5,718.8L792.5,721.2L783.8,723.8L778,717.5L778.8,710L775,700Z"/>
<path fill="#fefee5" d="M817,697.5L823.8,692.5L827.5,696.2L821.2,703Z"/>
<path fill="#fefee5" d="M833.8,680L837,677L840,680L838.8,685L835,685Z"/>
<path fill="#f6fabb" d="M787.5,675L788.8,658.8L792.5,657.5L792.5,638.8L803.8,639.5L807.5,636.2L812.5,637.5L817.5,647.5L822.5,656.2L828.8,658.8L820,665L813.8,673.8L807.5,677.5L798.8,676.2L791.2,682.5Z"/>
<path fill="#f6fabb" d="M812.5,637.5L820,635L830,627.5L835,626.2L843.8,630L846.2,637.5L843.8,650L837.5,660L828.8,658.8L822.5,656.2L817.5,647.5Z"/>
<path fill="none" d="M807.5,387.5L809.5,435.8L809.5,446.2L805.5,446.2L767.5,430L763.8,433L752.5,427.5"/>
<path fill="none" d="M809.5,435.8L862.2,435.8"/>
<path fill="none" d="M626.2,440L643.8,438.8L645,427.5L647.5,425L648.8,415L662.5,415L663.8,413.8L672.5,420L676.2,468.8L648.8,470L646.2,473.8L641.2,465L630,463.8L625,470"/>
<path fill="none" d="M720,450L718.8,462.5L711.2,468.8L702.5,471.2L692.5,475L686.2,482.5L680,486.2L676.2,492.5L668.8,493.8L663.8,487.5L661.2,483.8L650,485L647.5,476.2L646.2,473.8"/>
<path fill="none" d="M627.5,485L637.5,483.8L650,485"/>
<path fill="none" d="M625,477L637.5,476.2L638.8,478.8L626.2,479.5"/>
<path fill="none" d="M633.8,490L637.5,483.8"/>
<path fill="none" d="M641.2,502.5L647.5,497.5L653.8,500L656.2,507.5L661.2,506.2L663.8,500L668.8,493.8"/>
<path fill="none" d="M647.5,510L653.8,503.8L656.2,507.5"/>
<path fill="none" d="M661.2,506.2L663.8,515L666.2,525"/>
<path fill="none" d="M676.2,492.5L687.5,492.5"/>
<path fill="none" d="M702.5,471.2L710,483.8L716.2,487.5L707.5,490L701.2,491.2"/>
<path fill="none" d="M701.2,491.2L705,492.5L707.5,502.5L707.5,516.2"/>
<path fill="none" d="M707.5,490L711.2,495L712.5,505L712.5,516.2"/>
<path fill="none" d="M763.8,433L767.5,457.5L761.2,472.5L763.8,482.5"/>
<path fill="none" d="M716.2,487.5L717.5,480L727.5,477.5L738.8,481.2L750,478.8L760,480L763.8,482.5L766.2,487.5L760,500L752.5,510L745,513.8L740,522.5L738.8,524.5"/>
<path fill="none" d="M716.2,487.5L715,500L712.5,516.2"/>
<path fill="none" d="M805.5,446.2L805.5,467.5L800,472.5L798.8,483.8L802.5,491.2L792.5,500L780,505L770,510L765,497.5L767.5,490L763.8,482.5"/>
<path fill="none" d="M770,510L766.2,520L771.2,532.5L780,530L783.8,526.2"/>
<path fill="none" d="M742.5,537.5L750,536.2L760,536.2L771.2,537.5L771.2,532.5"/>
<path fill="none" d="M751.2,542.5L760,536.2L765,540L763.8,547.5L766.2,555L760,560L755,557.5L751.2,566.2"/>
<path fill="none" d="M783.8,526.2L780,537.5L778.8,550L772.5,557.5L771.2,565L765,570L756.2,573.8"/>
<path fill="none" d="M756.2,577.5L772.5,577"/>
<path fill="none" d="M802.5,491.2L807.5,500L815,508.8L822.5,520L826.2,523.8L817.5,521.2L807.5,522.5L797.5,526.2L787.5,523.8L783.8,526.2"/>
<path fill="none" d="M808.8,500L813.8,495L820,498.8L830,497.5L836.2,492.5L843.8,495L847.5,486.2L850,492.5L850,500L852.5,502.5"/>
<path fill="none" d="M852.5,502.5L850,507.5L857.5,517.5L855,525"/>
<path fill="none" d="M826.2,523.8L837.5,527.5L846.2,527.5L855,525"/>
<path fill="none" d="M863.8,475L855,490L852.5,502.5"/>
<path fill="none" d="M887.5,485L886.2,490L891.2,491.2L893.8,496.2L912.5,506.2L905,515L895,525L885,526.2L875,528.8L865,525L855,525"/>
<path fill="none" d="M885,526.2L883.8,535L885,553.8"/>
<path fill="none" d="M855,525L856.2,537.5L852.5,547.5L852.5,552.5L875,570"/>
<path fill="none" d="M837.5,527.5L838.8,536.2L833.8,547.5L833.8,553.8L840,552.5L852.5,552.5"/>
<path fill="none" d="M832.5,570L833.8,580L837.5,590"/>
<path fill="none" d="M837.5,590L846.2,593.8L852.5,597.5L855,606.2L868.8,605L880.5,600"/>
<path fill="none" d="M756.2,577.5L773.8,577L777.5,586.2L786.2,585L791.2,582.5L797.5,583.8L798.8,602.5L807.5,603L812.5,605L821.2,606.2L830,613.8L832.5,613.8L832.5,608.8L827.5,607.5L826.2,600L828.8,591.2L836.2,589.5L837.5,590"/>
<path fill="none" d="M753,635L762.5,634.5L780,635L785,637.5L800,636.2L807.5,636.2"/>
<path fill="none" d="M807.5,603L807.5,611.2L797.5,612.5L797.5,627.5L800,636.2"/>
<path fill="none" d="M846.2,593.8L850,600L847.5,616.2L835,621.2L835,626.2"/>
<path fill="none" d="M852.5,597.5L853.8,606.2L853.8,616.2L858.8,622.5L857.5,628.8L853.8,630L852.5,622.5L847.5,616.2"/>
<path fill="none" d="M785,692.5L787.5,675"/>
<path fill="none" d="M837.5,660L840,670L838.8,677.5L843.8,682.5"/>
<path fill="#44844f" d="M809.1,346.5L815.1,342.2L822,339.6L830.6,336.2L840.9,334.5L851.2,336.2L861.5,337.9L871.9,337.1L880.5,337.9L883.9,342.2L883,346.5L886.5,350.8L884.8,353.4L887.3,358.5L882.2,359.4L873.6,359.4L865,360.3L856.4,362L852.9,361.1L852.1,364.6L849.5,362L842.6,361.1L835.7,362.8L828.9,363.7L823.7,361.1L816.8,359.4L811.7,355.1L810,350.8Z"/>
<path fill="#44844f" d="M807.4,338.8L808.2,335.3L813.4,335.3L816.8,337.9L819.4,340.5L814.3,342.2L810,343.1Z"/>
<path fill="#44844f" d="M836.6,369.7L840.9,368L845.2,366.3L843.5,369.7L839.2,372Z"/>
<path fill="#f6fabb" d="M865.1,328.4L869.6,329L876.1,330.3L882.5,332.2L889,335.5L894.5,337.1L889.4,339.7L885,340.5L881.3,339.6L876.1,338.3L870.3,337.6L870.7,336.1L869,332.9Z"/>
<path fill="#fefee5" d="M882.5,340.2L889.3,339.7L890.2,344L892.8,345.7L894.5,349.1L890.2,350.8L885.9,347.4L882.5,344Z"/>
<path fill="#b3d99a" d="M889.3,339.7L894.5,337.1L899.7,338.8L903.1,338.8L905.7,344L904.3,349.1L901.4,351.7L898.8,348.3L894.5,349.1L892.8,345.7L890.2,344Z"/>
<path fill="#fefee5" d="M851.5,367.2L854.1,363.7L854.9,361.2L861,360.3L869.6,358.6L876.4,359.4L874.7,365.5L873.9,372.3L867,375.8L860.1,380.1L855.8,378.4L853.2,374.9L854.1,370.6Z"/>
<path fill="#f6fabb" d="M851.5,373.2L853.2,369.8L854.1,370.6L853.2,374.9L851.5,377.5Z"/>
<path fill="#fefee5" d="M874.7,365.5L876.4,359.4L884.2,359.4L886.8,357.7L889.3,355.1L891.9,359.4L896.2,365.5L893.6,368.9L894.5,373.2L897.9,376.6L902.2,380.9L905.7,387L910,390.4L912.6,394.7L907.4,395.6L903.1,396.4L901.4,399L895.4,399L886.8,394.7L878.2,389.5L868.7,383.5L867,375.8L873.9,372.3Z"/>
<path fill="#b3d99a" d="M852.4,381.8L855.8,378.4L860.1,380.1L867,375.8L868.7,383.5L861.8,387L859.2,393L855.8,399L850.6,397.3L851.5,388.7Z"/>
<path fill="#255a37" d="M848.1,388.7L850.3,380.1L851.5,377.5L852.4,381.8L851.5,388.7L850.6,397.3L849.3,393.8Z"/>
<path fill="#ececec" d="M903.1,396.4L907.4,395.6L909.1,399.9L906.5,402.4L902.2,400.7Z"/>
<path fill="#61a86a" d="M850.6,397.3L855.8,399L859.2,393L861.8,387L868.7,383.5L878.2,389.5L886.8,394.7L895.4,399L901.4,399L902.2,400.7L906.5,402.4L910,406.7L914.3,411L917.7,416.2L920.3,421.4L923.7,423.1L926.3,424.8L928,430L934.9,432.5L941.8,431.7L944.4,436L942.7,445.4L931.5,449.7L922.9,451.4L912.6,456.6L907.4,460L898.8,458.3L891.9,460L889.3,463.5L885,456.6L880.7,449.7L875.6,442L871.3,434.3L867,424.8L861.8,416.2L856.7,407.6L852.4,402.4Z"/>
<path fill="#fefee5" d="M890,462.5L891.2,460L900,458.8L910,460L920,453.8L930,451.2L935,461.2L930,467.5L917.5,473.8L905,478.8L896.2,482.5L892.5,481.2L891.2,472.5Z"/>
<path fill="#b3d99a" d="M944.4,425.7L948.7,423.1L955.6,426.5L962.4,433.4L959,440.3L953.8,445.4L953.8,451.4L947,455.7L940.1,460L934.9,462.6L931.5,449.7L942.7,445.4L944.4,436L942.7,431.7Z"/>
<path fill="#1b472e" d="M926.3,424.8L931.5,423.9L936.6,421.4L941.8,416.2L944.9,413.6L945.6,419.6L947,423.1L944.4,425.7L942.7,431.7L941.8,431.7L934.9,432.5L928,430Z"/>
<path fill="#255a37" d="M922,416.2L924.3,415L924.9,421.4L922.9,423.1L921.2,420.5Z"/>
<path fill="#dbeeaa" d="M886.8,348.3L890.2,350.8L894.5,349.1L898.8,348.3L901.4,351.7L904.3,349.1L904.8,354.3L908.3,357.7L914.3,360.3L921.2,359.4L925.5,358.6L930.6,356.9L936.6,354.3L943.5,355.1L950.4,356.9L957.3,359.4L960.7,365.5L958.1,369.8L958.1,374.9L960.7,381.8L964.2,388.7L963.3,393.8L967.6,398.1L965.9,400.7L971,405.9L973.6,411.9L969.3,414.5L968.5,420L960.7,417.9L953.8,417.1L948.7,412.8L947,410.2L941.8,412.8L933.2,410.2L926.3,405.9L921.2,400.7L916,396.4L912.6,394.7L910,390.4L905.7,387L902.2,380.9L897.9,376.6L894.5,373.2L893.6,368.9L896.2,365.5L891.9,359.4L889.3,355.1L886.8,357.7L885.9,350.8Z"/>
<path fill="#b3d99a" d="M893.6,313.9L888.5,307L884.2,303.5L883.3,298.4L888.5,292.4L894.5,287.2L904,288.1L912.6,291.5L919.4,289.8L928,290.6L936.6,291.5L937.5,288.1L931.5,285.5L932.3,280.3L931.5,276.9L940.1,273.4L950.4,270L957.4,269.5L964.2,270L977.9,277.7L981.4,275.2L988.2,274.3L999.4,282.9L1008.9,289.8L1019.2,292.4L1024.3,290.6L1034.7,295.8L1041.2,298.9L1037.2,303.5L1039,307L1029.5,308.7L1032.1,313L1027.8,315.6L1029.5,319L1021.8,319.9L1025.2,325L1027.8,329.3L1019.2,331.1L1010.6,329.3L1000.3,328.5L995.1,332.8L990,331.9L985.7,336.2L981.4,339.7L976.2,337.1L971,335.4L967.6,328.5L958.1,326.8L950.4,325L941.8,321.6L933.2,318.2L925.5,319L929.8,337.9L923.7,336.2L919.4,333.6L916,334.5L915.1,334.5L912.6,331.1L908.3,326.8L905.7,321.6L907.4,318.2L912.2,315.6L910,311.3L900.5,310.9Z"/>
<path fill="#dbeeaa" d="M925.5,319L933.2,318.2L941.8,321.6L950.4,325L958.1,326.8L967.6,328.5L971,335.4L976.2,337.1L981.4,339.7L985.7,336.2L990,331.9L995.1,332.8L992.5,337.1L999.4,338.8L1002,341.4L995.1,344L990.8,345.7L988.2,342.2L985.7,346.5L986.5,352.6L984.8,358.6L981.4,356L976.2,354.3L971,349.1L964.2,344L957.3,339.7L950.4,337.1L943.5,333.6L940.1,331.9L934.9,336.2L933.2,337.9L929.8,337.9Z"/>
<path fill="#ececec" d="M916,334.5L919.4,333.6L923.7,336.2L929.8,337.9L933.2,337.9L934.9,336.2L940.1,331.9L943.5,333.6L950.4,337.1L957.3,339.7L964.2,344L971,349.1L976.2,354.3L981.4,356L984.8,358.6L977.9,360.3L972.8,366.3L965.9,368L960.7,365.5L957.3,359.4L950.4,356.9L943.5,355.1L936.6,354.3L930.6,356.9L925.5,358.6L924.6,357.7L923.7,350.8L919.4,347.4L917.7,342.2L916,338.8Z"/>
<path fill="#fefee5" d="M990,331.9L995.1,332.8L1000.3,328.5L1010.6,329.3L1019.2,331.1L1027.8,329.3L1024.3,334.5L1017.5,337.9L1012.3,341.4L1007.1,344L1002,346.5L995.1,347.4L990.8,345.7L995.1,344L1002,341.4L999.4,338.8L992.5,337.1Z"/>
<path fill="#f6fabb" d="M985.7,346.5L988.2,342.2L990.8,345.7L995.1,347.4L1002,346.5L1006.3,347.4L1009.7,349.1L1012.3,354.3L1011.4,358.6L1005.4,357.7L1002,360.3L998.5,356L996,354.3L992.5,359.4L984.8,358.6L986.5,352.6Z"/>
<path fill="#fefee5" d="M960.7,365.5L965.9,368L972.8,366.3L977.9,360.3L984.8,358.6L992.5,359.4L996,354.3L998.5,356L1002,360.3L1005.4,357.7L1011.4,358.6L1012.3,359.4L1003.7,361.2L1002,367.2L1002,371.5L999.4,376.6L996,381.8L995.1,386.1L988.2,389.5L983.9,393.8L979.6,398.1L967.6,398.1L963.3,393.8L964.2,388.7L960.7,381.8L958.1,374.9L958.1,369.8Z"/>
<path fill="#f6fabb" d="M967.6,398.1L979.6,398.1L983.9,393.8L988.2,389.5L995.1,386.1L996,381.8L999.4,376.6L1002,371.5L1002,367.2L1003.7,361.2L1012.3,359.4L1017.5,363.7L1024.3,366.3L1027.8,369.8L1019.2,371.5L1012.3,373.2L1015.7,378.4L1020.9,383.5L1017.5,390.4L1015.7,397.3L1010.6,402.4L1003.7,407.6L1002,410.2L1007.1,414.5L1009.7,421.4L1010.6,423.9L999.4,426.5L995.1,425.7L990,420.5L981.4,419.6L973.6,419.6L968.5,420L969.3,414.5L973.6,411.9L971,405.9L965.9,400.7Z"/>
<path fill="#8bc582" d="M756.6,308.7L777.3,300.9L787.6,301.8L796.2,315.6L801.4,331L789.3,337.1L782.8,338.3L779.3,332.4L770.4,322.8L762.7,318.1L759.2,314.2Z"/>
<path fill="#44844f" d="M718.8,239L722.2,235.6L730.8,231.3L737.7,226.1L743.7,219.2L751.5,211.5L760.1,205.5L770.4,201.2L780.7,198.6L791,198.3L800.5,201.2L796.2,203.4L794.5,206.3L787.6,203.8L783.3,207.2L779,209.8L773.8,206.3L768.7,206.3L763.5,208.9L756.6,211.5L753.2,217.5L749.8,224.4L746.3,228.7L742.9,230.4L743.7,236.4L744.6,241.6L742,249.3L737.7,251.1L732.6,254.5L727.4,256.2L722.2,252.8L719.7,245.9Z"/>
<path fill="#44844f" d="M742.9,230.4L746.3,228.7L749.8,224.4L753.2,217.5L756.6,211.5L763.5,208.9L768.7,206.3L773.8,206.3L777.3,209.8L779,215.8L778.1,221L773.8,224.4L770.4,228.7L764.4,234.7L761.8,239.9L763.5,244.2L767,247.6L765.2,253.6L761.8,257.1L760.1,264L754.9,266.5L752.3,269.1L748,268.3L745.5,262.2L742,256.2L742,249.3L744.6,241.6L743.7,236.4Z"/>
<path fill="#44844f" d="M779,209.8L783.3,207.2L787.6,203.8L794.5,206.3L796.2,212.4L799.6,218.4L802.2,224.4L804.8,230.4L810,234.7L805.7,240.7L801.4,245L794.5,246.8L785.9,247.6L779.9,245.9L775.6,241.6L774.7,235.6L778.1,230.4L783.3,227L786.7,222.7L782.4,221L778.1,221L779,215.8L777.3,209.8Z"/>
<path fill="#2d6a40" d="M730.8,263.1L734.3,260.5L738.6,258.8L739.4,262.2L736.9,265.7L737.7,270.8L734.3,271.7L731.2,269.1Z"/>
<path fill="#2d6a40" d="M741.2,267.4L745.5,266.5L747.2,270L744.6,271.7L742,270Z"/>
<path fill="#44844f" d="M678.4,260.5L681.8,254.5L687,253.6L690.4,254.5L687,257.9L693,258.8L691.3,264L694.7,267.4L697.3,272.6L700.7,276L702.5,279.4L706.8,282L705.9,287.2L701.6,290.6L695.6,291.5L688.7,292.3L682.7,294.1L678.4,294.9L683.5,289.8L687,287.2L681.8,285.5L684.4,281.2L687,277.7L687.8,274.3L683.5,271.7L681,267.4L678.4,264Z"/>
<path fill="#44844f" d="M672.4,270.8L677.5,270.5L679.2,273.4L675.8,276L672.4,275.1Z"/>
<path fill="#2d6a40" d="M662,286.3L664.6,279.4L665.5,274.3L672.4,270.8L672.4,275.1L675.8,276L677.5,279.4L675.8,283.7L670.6,286.3L665.5,287.2Z"/>
<path fill="#44844f" d="M682.7,303.5L687.8,300.9L693,301.8L693,296.6L699.9,297.5L705,293.2L709.3,290.6L712.8,291.5L718.8,294.9L724,297.5L728.3,298.4L730.8,300.1L730,305.2L726.5,308.7L725.7,312.1L729.1,315.6L728.3,320.7L730.8,325.9L726.5,327.6L720.5,326.7L716.2,325.9L712.8,329.3L710.2,332.8L703.3,331.9L696.4,329.3L695.6,324.2L695.6,317.3L693,310.4L687.8,306.1Z"/>
<path fill="#44844f" d="M736,331L738.6,329.3L739.4,336.2L736.9,337.9Z"/>
<path fill="#2d6a40" d="M662.9,329.3L667.2,326.7L675.8,327.6L686.1,327.6L696.4,329.3L703.3,331.9L710.2,332.8L711.9,336.2L706.8,339.6L702.5,343.1L699.9,348.2L700.7,351.7L696.4,356L692.1,360.3L684.4,362L679.2,364.6L675.8,365.4L673.2,361.1L669.8,360.3L671.5,353.4L670.6,344.8L674.1,336.2L667.2,334.5L663.8,333.6Z"/>
<path fill="#2d6a40" d="M663.8,333.6L667.2,334.5L674.1,336.2L670.6,344.8L671.5,353.4L669.8,360.3L663.8,360.3L662,353.4L661.2,348.2L663.8,341.4Z"/>
<path fill="#2d6a40" d="M712.8,291.5L717.1,288.9L722.2,289.8L724.8,293.2L724,297.5L718.8,294.9Z"/>
<path fill="#44844f" d="M717.1,288.9L718.8,282.9L722.2,279.4L727.4,278.6L726.5,284.6L725.7,289.8L724.8,293.2L722.2,289.8Z"/>
<path fill="#44844f" d="M727.4,278.6L732.6,276.9L735.1,272.6L737.7,274.3L742.9,275.1L748,274.3L753.2,276L755.8,281.2L756.6,287.2L758.4,289.8L753.2,292.3L749.8,294.9L753.2,300.1L754.9,302.7L751.5,307L748,308.7L741.2,308.7L736,307.8L730.8,307L730,305.2L730.8,300.1L728.3,298.4L724,297.5L724.8,293.2L725.7,289.8L726.5,284.6Z"/>
<path fill="#61a86a" d="M725.7,312.1L726.5,308.7L730.8,307L736,307.8L740.3,309.5L739.4,312.1L735.1,313.8L730.8,315.6L729.1,315.6Z"/>
<path fill="#61a86a" d="M740.3,309.5L741.2,308.7L748,308.7L751.5,307L754.9,302.7L760.1,301.8L766.1,302.7L767.8,307L766.1,310.4L761.8,312.1L754.9,312.1L748,310.4L742.9,311.3L739.4,312.1Z"/>
<path fill="#44844f" d="M728.3,320.7L729.1,315.6L730.8,315.6L735.1,313.8L739.4,312.1L742.9,311.3L748,310.4L754.9,312.1L753.2,316.4L749.8,317.3L751.5,322.4L756.6,327.6L761.8,332.8L768.7,337.9L775.6,343.1L776.4,345.7L772.1,343.9L768.7,343.1L770.4,348.2L768.7,353.4L766.1,351.7L767,346.5L763.5,341.4L758.4,337.9L753.2,333.6L748,327.6L743.7,324.2L739.4,323.3L734.3,325L730.8,325.9Z"/>
<path fill="#44844f" d="M735.1,341.4L739.4,339.6L740.3,345.7L739.4,349.1L736,348.2Z"/>
<path fill="#44844f" d="M752.3,355.1L758.4,354.3L764.4,353.4L763.5,357.7L761.8,361.1L756.6,359.4L752.3,356.8Z"/>
<path fill="#61a86a" d="M749.8,294.9L753.2,292.3L758.4,289.8L763.5,292.3L770.4,294.1L773,296.6L768.7,300.1L763.5,301.8L760.1,301.8L754.9,302.7L753.2,300.1Z"/>
<path fill="#8bc582" d="M753.2,276L760.1,273.4L770.4,271.7L777.3,272.6L786.7,273.4L790.2,276L791,282.9L793.6,290.6L791,294.9L787.6,298.4L782.4,298.4L777.3,297.5L773,296.6L770.4,294.1L763.5,292.3L758.4,289.8L756.6,287.2L755.8,281.2Z"/>
<path fill="#8bc582" d="M768.7,300.1L773,296.6L777.3,297.5L782.4,298.4L787.6,298.4L786.7,301.8L780.7,303.5L773.8,304.4L768.7,305.2L766.1,302.7Z"/>
<path fill="#ececec" d="M766.1,310.4L767.8,307L766.1,302.7L768.7,305.2L773.8,304.4L780.7,303.5L786.7,301.8L788.5,304.4L784.2,310.4L779,313.8L772.1,314.7L767.8,313Z"/>
<path fill="#61a86a" d="M754.9,312.1L761.8,312.1L763.5,313.8L760.1,316.4L755.8,316.4Z"/>
<path fill="#8bc582" d="M755.8,316.4L760.1,316.4L763.5,313.8L767.8,313L772.1,314.7L776.4,317.3L775.6,319L770.4,318.1L765.2,318.1L763.5,320.7L768.7,325.9L773.8,331L778.1,335.3L773.8,332.8L767,327.6L761.8,322.4L757.5,320.7Z"/>
<path fill="#f6fabb" d="M763.5,320.7L765.2,318.1L770.4,318.1L775.6,319L778.1,323.3L777.3,327.6L775.6,331.9L773.8,331L768.7,325.9Z"/>
<path fill="#8bc582" d="M776.4,317.3L779,313.8L784.2,315.6L787.6,320.7L791,324.2L791.9,328.5L789.3,332.8L785.9,333.6L782.4,331L779.9,327.6L778.1,323.3L775.6,319Z"/>
<path fill="#b3d99a" d="M775.6,331.9L777.3,327.6L779.9,327.6L782.4,331L780.7,334.5L778.1,335.3Z"/>
<path fill="#f6fabb" d="M782.4,331L785.9,333.6L785,336.2L782.4,336.2Z"/>
<path fill="#dbeeaa" d="M778.1,335.3L780.7,334.5L782.4,336.2L783.3,339.6L784.2,343.9L781.6,345.7L779,341.4Z"/>
<path fill="#b3d99a" d="M785,336.2L789.3,332.8L793.6,335.3L792.8,339.6L787.6,340.5L784.2,339.6Z"/>
<path fill="#61a86a" d="M781.6,345.7L784.2,343.9L784.2,339.6L787.6,340.5L792.8,339.6L797.9,337.9L804.8,337.1L807.4,338.8L804.8,341.4L797.9,341.4L795.3,343.1L797.9,346.5L795.3,347.4L798.8,351.7L801.4,355.1L797.1,356L797.9,362L794.5,362L791,356.8L787.6,352.5L785,349.1Z"/>
<path fill="#61a86a" d="M799.6,367.1L804.8,368L810.8,368.9L810,370.6L803.1,370.2Z"/>
<path fill="#f6fabb" d="M791.9,328.5L793.6,325.9L799.6,326.7L806.5,325L814.3,325L815.1,329.3L812.5,332.8L813.4,335.3L807.4,337.1L804.8,337.1L797.9,337.9L793.6,335.3L789.3,332.8Z"/>
<path fill="#dbeeaa" d="M784.2,310.4L788.5,304.4L794.5,305.2L801.4,304.4L808.2,304.4L812.5,310.4L815.1,316.4L819.4,318.1L820.3,321.6L816,323.3L814.3,325L806.5,325L799.6,326.7L793.6,325.9L791,324.2L787.6,320.7L784.2,315.6Z"/>
<path fill="#f6fabb" d="M808.2,304.4L811.7,303.5L816,307.8L819.4,312.1L817.7,316.4L815.1,316.4L812.5,310.4Z"/>
<path fill="#f6fabb" d="M787.6,298.4L791,294.9L793.6,290.6L792.8,286.3L799.6,287.2L808.2,288L816.8,288.9L820.3,285.5L823.7,283.7L828.9,284.6L832.3,288.9L838.3,289.8L842.6,293.2L850.4,294.9L856.4,297.5L857.4,299.4L856.7,304.5L852.9,305.7L855.5,308.3L853.8,313.8L852.3,321.2L850.4,319.3L843.8,320L837.5,321.9L832.3,318.1L830.2,314.9L827.1,313L823.2,311.6L822,314.9L820.3,317.3L819.4,318.1L815.1,316.4L817.7,316.4L819.4,312.1L816,307.8L811.7,303.5L808.2,304.4L801.4,304.4L794.5,305.2L788.5,304.4L786.7,301.8Z"/>
<path fill="#f6fabb" d="M791,282.9L790.2,276L793.6,271.7L799.6,267.4L805.7,265.7L810.8,267.4L816,268.3L817.7,272.6L822,276L823.7,279.4L819.4,281.2L823.7,283.7L820.3,285.5L816.8,288.9L808.2,288L799.6,287.2L792.8,286.3L793.6,290.6Z"/>
<path fill="#44844f" d="M779,266.5L785.9,264.8L792.8,264.8L798.8,266.5L799.6,267.4L793.6,271.7L790.2,276L786.7,273.4L780.7,270.8Z"/>
<path fill="#dbeeaa" d="M776.4,271.7L780.7,270.8L786.7,273.4L777.3,273.9Z"/>
<path fill="#8bc582" d="M779,262.2L782.4,258.8L787.6,260.5L792.8,257.9L799.6,259.7L803.9,264L805.7,265.7L799.6,267.4L798.8,266.5L792.8,264.8L785.9,264.8L779,266.5Z"/>
<path fill="#8bc582" d="M785,252.8L791,250.2L799.6,249.3L803.1,248.5L801.4,253.6L803.1,258.8L799.6,259.7L792.8,257.9L787.6,260.5L785.9,257.1Z"/>
<path fill="#fff" d="M839.2,396.5L840.5,395.8L848.2,406.5L846.8,407.8Z"/>
<path fill="#fff" d="M840,314.2L843.8,311.6L850.3,309.7L855.5,308.4L854.8,310.3L850.3,313.5L852.2,315.5L849,318L842.6,318Z"/>
<path fill="#dbeeaa" d="M88.7,224.8L95.8,219.7L106.1,213.2L115.1,207.4L119,211.3L119.7,214.5L126.8,215.8L129.3,218.4L128.7,220.3L121.6,222.9L116.4,222.9L111.3,226.8L107.4,227.4L103.5,224.8L97.7,221.6Z"/>
<path fill="#dbeeaa" d="M128,199L133.2,196.4L139.7,197.1L134.5,198.6Z"/>
</g>
<g fill="#444" stroke="none"><circle cx="1447.4" cy="549.9" r="0.7"/><circle cx="1486.7" cy="576.1" r="0.7"/><circle cx="1490.6" cy="583.5" r="0.7"/><circle cx="1497.7" cy="585.1" r="0.7"/><circle cx="1495.8" cy="587.7" r="0.7"/><circle cx="1498.7" cy="590.3" r="0.7"/><circle cx="1501.6" cy="594.6" r="0.7"/><circle cx="1486.7" cy="610.6" r="0.7"/><circle cx="423.8" cy="458.8" r="0.7"/><circle cx="427.5" cy="458" r="0.7"/><circle cx="428.8" cy="463.8" r="0.7"/><circle cx="428.8" cy="470" r="0.7"/><circle cx="430" cy="477.5" r="0.7"/><circle cx="435" cy="480" r="0.7"/><circle cx="426.3" cy="486.3" r="0.7"/><circle cx="600" cy="465" r="0.7"/><circle cx="588.8" cy="461.3" r="0.7"/><circle cx="730" cy="545" r="0.7"/><circle cx="947.5" cy="570" r="0.7"/><circle cx="895" cy="606" r="0.7"/><circle cx="1028.8" cy="526.3" r="0.7"/><circle cx="1028.8" cy="530" r="0.7"/><circle cx="953" cy="650" r="1.3"/></g>
<rect x="1199.5" y="655" width="36" height="10" rx="5" fill="#44664a" opacity=".7" filter="url(#sm)"/>
<g id="legend">
<rect x="193.5" y="915.5" width="84" height="20" fill="#ececec" stroke="#777" stroke-width="1"/>
<path d="M235.5,909V915" stroke="#777" stroke-width="1" fill="none"/>
<rect x="307.5" y="915.5" width="114.1" height="20" fill="#fefee5" stroke="#888" stroke-width="0.6"/>
<rect x="421.6" y="915.5" width="114.1" height="20" fill="#f6fabb" stroke="#888" stroke-width="0.6"/>
<rect x="535.7" y="915.5" width="114.1" height="20" fill="#dbeeaa" stroke="#888" stroke-width="0.6"/>
<rect x="649.8" y="915.5" width="114.1" height="20" fill="#b3d99a" stroke="#888" stroke-width="0.6"/>
<rect x="763.9" y="915.5" width="114.1" height="20" fill="#8bc582" stroke="#888" stroke-width="0.6"/>
<rect x="878.0" y="915.5" width="114.1" height="20" fill="#61a86a" stroke="#888" stroke-width="0.6"/>
<rect x="992.1" y="915.5" width="114.1" height="20" fill="#44844f" stroke="#888" stroke-width="0.6"/>
<rect x="1106.2" y="915.5" width="114.1" height="20" fill="#2d6a40" stroke="#888" stroke-width="0.6"/>
<rect x="1220.3" y="915.5" width="114.1" height="20" fill="#255a37" stroke="#888" stroke-width="0.6"/>
<rect x="1334.4" y="915.5" width="114.1" height="20" fill="#1b472e" stroke="#888" stroke-width="0.6"/>
<path d="M307.5,909V935.5M421.6,909V935.5M535.7,909V935.5M649.8,909V935.5M763.9,909V935.5M878.0,909V935.5M992.1,909V935.5M1106.2,909V935.5M1220.3,909V935.5M1334.4,909V935.5M1448.5,909V935.5" stroke="#333" stroke-width="0.8" fill="none"/>
<g font-family="Liberation Sans, sans-serif" font-size="23.3" fill="#111" text-anchor="middle">
<text x="235" y="902.5" textLength="82" lengthAdjust="spacingAndGlyphs">No data</text>
<text x="307.5" y="902.5">0</text>
<text x="421.6" y="902.5">20</text>
<text x="535.7" y="902.5">40</text>
<text x="649.8" y="902.5">60</text>
<text x="763.9" y="902.5">80</text>
<text x="878.0" y="902.5">100</text>
<text x="992.1" y="902.5">120</text>
<text x="1106.2" y="902.5">140</text>
<text x="1220.3" y="902.5">160</text>
<text x="1334.4" y="902.5">180</text>
<text x="1448.5" y="902.5">200</text>
</g>
</g>
</svg>
<div id="sel" class="abs">World</div>
<div id="src" class="abs">Source: Official data collated by Our World in Data – Last updated 16 September 2021, 08:40 (London time)</div>
<div id="url" class="abs">OurWorldInData.org/coronavirus • CC BY</div>
<div class="abs tl" style="left:82px">Dec 1, 2020</div>
<div class="abs tl" style="left:1444px">Sep 15, 2021</div>
<div id="tabs" class="abs">
<div class="tab" style="left:0;width:266px;border-left:none;letter-spacing:-1.25px">CHART</div>
<div class="tab on" style="left:266px;width:237px;letter-spacing:-.45px">MAP</div>
<div class="tab" style="left:503px;width:258px;letter-spacing:-1.4px">TABLE</div>
<div class="tab" style="left:761px;width:296px;letter-spacing:-2.3px">SOURCES</div>
<div class="tab" style="left:1057px;width:371px;letter-spacing:-.12px;padding-left:35px">DOWNLOAD</div>
<div class="tab" style="left:1428px;width:202px"></div>
</div>
<svg id="ov" style="position:absolute;left:0;top:0;width:1640px;height:1163px;pointer-events:none" viewBox="0 0 1640 1163">
<defs><filter id="bl2" x="-50%" y="-50%" width="200%" height="200%"><feGaussianBlur stdDeviation="2"/></filter></defs>
<g id="chrome">
<path d="M40,1024.5 L40,1051.500 Q40,1054 42.500,1053 L64.500,1039.500 Q66.500,1038 64.500,1036.500 L42.500,1023 Q40,1022 40,1024.500Z" fill="#777" stroke="#777" stroke-width="2" stroke-linejoin="round"/>
<rect x="260" y="1034.250" width="1152" height="7.500" fill="#a9b1bf"/>
<circle cx="1412" cy="1039" r="14" fill="#000" opacity=".18" filter="url(#bl2)"/>
<circle cx="1412" cy="1038" r="14" fill="#fff" stroke="#2a6bd6" stroke-width="3"/>
<path d="M1568.500,168.500 L1578,177.500 L1587.500,168.500" fill="none" stroke="#ccc" stroke-width="4" stroke-linecap="round" stroke-linejoin="round"/>
<g fill="#6e6e6e"><path d="M1161.500,1092h7v8.500h6.500l-10,11.500l-10,-11.500h6.500z"/><path d="M1153.500,1109h7.200l4.300,4.600l4.300,-4.600h7.200q1.500,0 1.500,1.500v5.500q0,1.500 -1.500,1.500h-23q-1.500,0 -1.500,-1.500v-5.500q0,-1.500 1.500,-1.500z"/></g>
<circle cx="1171.500" cy="1114.300" r="0.900" fill="#fafbfc"/><circle cx="1174.700" cy="1114.300" r="0.900" fill="#fafbfc"/>
<g fill="#666" stroke="#666"><path d="M1528,1104.500L1542,1097M1528,1104.500L1542,1112.500" stroke-width="3" fill="none"/><circle cx="1528" cy="1104.500" r="4.300" stroke="none"/><circle cx="1542" cy="1096.800" r="4.300" stroke="none"/><circle cx="1542" cy="1112.500" r="4.300" stroke="none"/></g>
</g>
</svg>
</body>
</html>
